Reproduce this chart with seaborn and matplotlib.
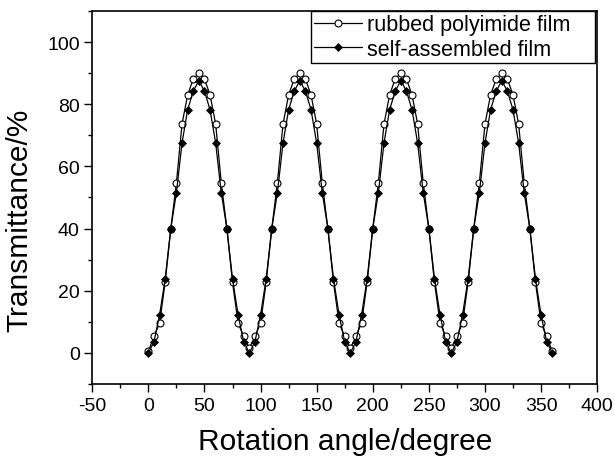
import numpy as np
import matplotlib
matplotlib.use("Agg")
import matplotlib.pyplot as plt
from matplotlib.ticker import MultipleLocator
import seaborn as sns

# rotation angle, degrees (every 5 deg)
angle = list(range(0, 365, 5))

# transmittance, one lobe per 90 deg
rubbed = [0.5, 5.3, 9.6, 22.7, 40.0, 54.7, 73.6, 83.0, 88.1, 90.0, 88.1, 83.0, 73.6, 54.7, 40.0, 22.7, 9.6, 5.3,
          1.5, 5.3, 9.6, 22.7, 40.0, 54.7, 73.6, 83.0, 88.1, 90.0, 88.1, 83.0, 73.6, 54.7, 40.0, 22.7, 9.6, 5.3,
          1.5, 5.3, 9.6, 22.7, 40.0, 54.7, 73.6, 83.0, 88.1, 90.0, 88.1, 83.0, 73.6, 54.7, 40.0, 22.7, 9.6, 5.3,
          1.5, 5.3, 9.6, 22.7, 40.0, 54.7, 73.6, 83.0, 88.1, 90.0, 88.1, 83.0, 73.6, 54.7, 40.0, 22.7, 9.6, 5.3,
          0.5]
selfasm = [0.0, 3.6, 12.2, 23.9, 40.0, 51.5, 67.5, 78.2, 84.2, 87.6, 84.2, 78.2, 67.5, 51.5, 40.0, 23.9, 12.2, 3.6,
           0.0, 3.6, 12.2, 23.9, 40.0, 51.5, 67.5, 78.2, 84.2, 87.6, 84.2, 78.2, 67.5, 51.5, 40.0, 23.9, 12.2, 3.6,
           0.0, 3.6, 12.2, 23.9, 40.0, 51.5, 67.5, 78.2, 84.2, 87.6, 84.2, 78.2, 67.5, 51.5, 40.0, 23.9, 12.2, 3.6,
           0.0, 3.6, 12.2, 23.9, 40.0, 51.5, 67.5, 78.2, 84.2, 87.6, 84.2, 78.2, 67.5, 51.5, 40.0, 23.9, 12.2, 3.6,
           0.0]

sns.set_style("ticks")
plt.rcParams['font.family'] = ['Liberation Sans', 'DejaVu Sans']
plt.rcParams['axes.unicode_minus'] = False
plt.rcParams['text.color'] = 'black'
plt.rcParams['axes.labelcolor'] = 'black'
plt.rcParams['xtick.color'] = 'black'
plt.rcParams['ytick.color'] = 'black'

fig = plt.figure(figsize=(6.15, 4.6), dpi=100)
ax = fig.add_axes([0.150, 0.163, 0.821, 0.811])

sns.lineplot(x=angle, y=rubbed, ax=ax, estimator=None, sort=False,
             color='black', linewidth=0.9, marker='o', markersize=5,
             markerfacecolor='white', markeredgecolor='black', markeredgewidth=0.8,
             label='rubbed polyimide film')
sns.lineplot(x=angle, y=selfasm, ax=ax, estimator=None, sort=False,
             color='black', linewidth=0.9, marker='D', markersize=4.3,
             markerfacecolor='black', markeredgecolor='black', markeredgewidth=0.5,
             label='self-assembled film')

ax.set_xlim(-50, 400)
ax.set_ylim(-10, 110)
ax.xaxis.set_major_locator(MultipleLocator(50))
ax.xaxis.set_minor_locator(MultipleLocator(25))
ax.yaxis.set_major_locator(MultipleLocator(20))
ax.yaxis.set_minor_locator(MultipleLocator(10))
ax.tick_params(which='major', direction='out', length=5.5, width=1, labelsize=14,
               color='black', labelcolor='black')
ax.tick_params(which='minor', direction='out', length=3, width=1, color='black')
for s in ax.spines.values():
    s.set_visible(True)
    s.set_linewidth(1.2)
    s.set_color('black')

ax.set_xlabel('Rotation angle/degree', fontsize=21.5, labelpad=10)
ax.set_ylabel('Transmittance/%', fontsize=21.5, labelpad=10)
ax.yaxis.label.set_y(0.442)

leg = ax.legend(loc='upper right', bbox_to_anchor=(0.433, 0.855, 0.563, 0.145), mode='expand',
                borderaxespad=0, fontsize=15.5, frameon=True, fancybox=False,
                framealpha=1, edgecolor='black', handlelength=2.2, handletextpad=0.25,
                borderpad=0.16, labelspacing=0.16)
leg.get_frame().set_linewidth(1.0)

fig.savefig('out.png', dpi=100)
